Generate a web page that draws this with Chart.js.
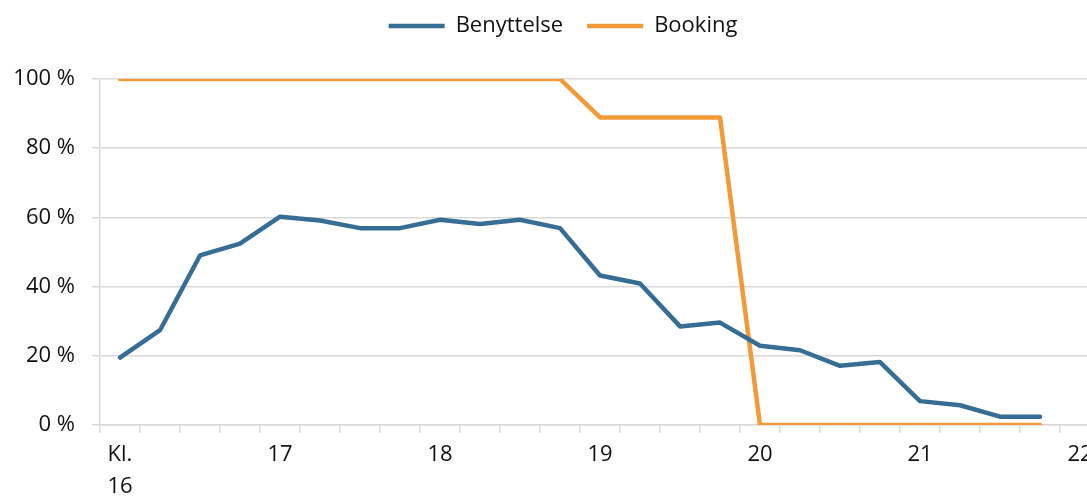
<!DOCTYPE html>
<html>
<head>
<meta charset="utf-8">
<script src="https://cdn.jsdelivr.net/npm/chart.js@4"></script>
<style>
  html, body { margin: 0; padding: 0; background: #fff; overflow: hidden; }
  #wrap { width: 1126px; height: 500px; }
</style>
</head>
<body>
<div id="wrap"><canvas id="chart" width="1126" height="500"></canvas></div>
<script>
// Tidspunkter (hvert kvarter), 16:00 - 22:00
const timeSlots = [
  '16:00', '16:15', '16:30', '16:45',
  '17:00', '17:15', '17:30', '17:45',
  '18:00', '18:15', '18:30', '18:45',
  '19:00', '19:15', '19:30', '19:45',
  '20:00', '20:15', '20:30', '20:45',
  '21:00', '21:15', '21:30', '21:45',
  '22:00'
];

// Benyttelse i prosent
const benyttelse = [
  19.5, 27.4, 49.0, 52.4,
  60.2, 59.1, 56.9, 56.9,
  59.3, 58.1, 59.3, 56.9,
  43.2, 40.9, 28.5, 29.6,
  22.9, 21.6, 17.1, 18.2,
  6.9, 5.7, 2.4, 2.4
];

// Booking i prosent
const booking = [
  100, 100, 100, 100,
  100, 100, 100, 100,
  100, 100, 100, 100,
  88.9, 88.9, 88.9, 88.9,
  0, 0, 0, 0,
  0, 0, 0, 0
];

const yTicks = [0, 20, 40, 60, 80, 100];

const fontFamily = '"Open Sans", "Noto Sans", sans-serif';
const gridColor = '#d9d9d9';

function hourLabel(slot, index) {
  if (!slot.endsWith(':00')) return '';
  const hour = slot.split(':')[0];
  return index === 0 ? ['Kl.', hour] : hour;
}

// Flytter legenden litt (sentrert over plottet, høyere opp)
const legendShift = {
  id: 'legendShift',
  afterLayout(chart) {
    const lg = chart.legend;
    if (!lg) return;
    lg.left += 26;
    lg.top -= 32;
    lg.bottom -= 32;
  }
};

new Chart(document.getElementById('chart'), {
  type: 'line',
  data: {
    labels: timeSlots,
    datasets: [
      {
        label: 'Benyttelse',
        data: benyttelse,
        borderColor: '#356d94',
        backgroundColor: '#356d94',
        borderWidth: 4.5,
        borderCapStyle: 'round',
        borderJoinStyle: 'round',
        pointRadius: 0,
        tension: 0
      },
      {
        label: 'Booking',
        data: booking,
        borderColor: '#f29a38',
        backgroundColor: '#f29a38',
        borderWidth: 4.5,
        borderCapStyle: 'round',
        borderJoinStyle: 'round',
        pointRadius: 0,
        tension: 0
      }
    ]
  },
  plugins: [legendShift],
  options: {
    responsive: false,
    animation: false,
    layout: { padding: { left: 0, right: 26, top: 23, bottom: 0 } },
    plugins: {
      legend: {
        position: 'top',
        labels: {
          usePointStyle: true,
          pointStyle: 'line',
          pointStyleWidth: 56,
          boxHeight: 22,
          padding: 24,
          color: '#111',
          font: { family: fontFamily, size: 22 }
        }
      },
      tooltip: { enabled: false }
    },
    scales: {
      x: {
        type: 'category',
        offset: true,
        grid: {
          offset: true,
          drawOnChartArea: false,
          color: gridColor,
          tickLength: 8,
          lineWidth: 1.5
        },
        border: { color: gridColor, width: 1.5 },
        ticks: {
          autoSkip: false,
          maxRotation: 0,
          padding: 6,
          color: '#111',
          font: { family: fontFamily, size: 22, lineHeight: 1.45 },
          callback: function(value, index) {
            return hourLabel(timeSlots[index], index);
          }
        },
        afterFit: function(scale) { scale.height = 75; }
      },
      y: {
        min: 0,
        max: 100,
        afterBuildTicks: function(scale) {
          scale.ticks = yTicks.map(v => ({ value: v }));
        },
        grid: { color: gridColor, tickLength: 8, lineWidth: 1.5 },
        border: { color: gridColor, width: 1.5 },
        ticks: {
          padding: 17,
          color: '#111',
          font: { family: fontFamily, size: 22 },
          callback: v => v + ' %'
        },
        afterFit: function(scale) { scale.width = 100; }
      }
    }
  }
});
</script>
</body>
</html>
